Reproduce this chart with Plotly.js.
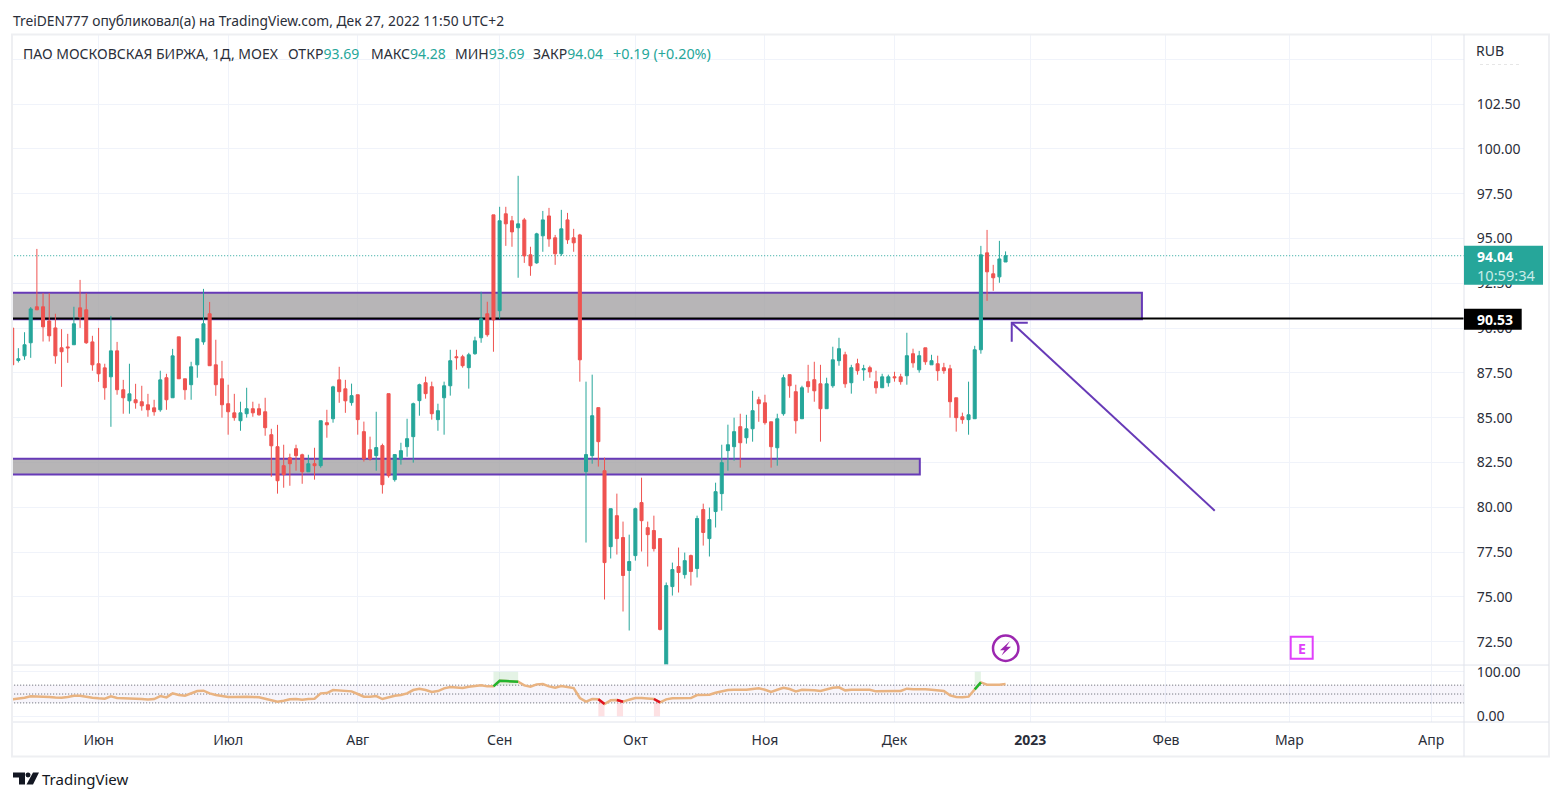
<!DOCTYPE html>
<html><head><meta charset="utf-8">
<script src="https://cdn.plot.ly/plotly-3.0.1.min.js"></script>
<style>html,body{margin:0;padding:0;background:#fff}#c{width:1562px;height:801px}</style>
</head><body><div id="c"></div>
<script>
const opens=[90.00,88.19,88.45,89.18,91.19,91.19,90.40,90.01,88.90,88.95,
89.07,91.13,91.02,89.23,88.01,87.78,87.28,88.73,86.56,85.94,
86.00,85.89,85.72,85.55,85.44,87.23,86.11,89.51,87.17,86.84,
87.95,89.23,90.80,87.95,87.17,85.78,85.27,84.83,85.22,85.50,
85.50,85.33,84.05,83.38,82.32,82.76,83.27,82.93,81.98,82.43,
82.32,84.72,84.94,87.11,86.61,85.84,86.28,84.22,83.21,82.88,
83.44,86.34,81.54,82.71,83.38,83.94,85.95,86.95,86.73,84.89,
86.11,86.78,88.40,88.40,87.79,88.57,89.46,90.80,96.32,90.97,
96.38,95.99,95.60,96.04,94.09,93.64,95.15,96.26,95.04,94.15,
96.04,95.04,95.20,81.99,82.88,85.56,82.04,77.80,79.53,78.31,
76.47,77.30,80.26,78.86,78.70,78.25,70.60,75.57,76.69,76.24,
77.30,76.58,79.87,78.25,79.76,80.76,83.16,83.38,84.50,83.88,
84.38,86.00,85.83,84.77,83.32,85.22,87.40,86.45,84.94,87.01,
87.12,86.89,85.50,86.78,88.18,88.51,86.95,88.01,87.67,87.79,
87.01,86.67,86.95,87.28,87.28,87.34,88.57,87.67,88.90,87.95,
88.01,87.79,87.73,86.11,85.05,84.89,84.94,88.79,94.20,93.03,
92.86,93.69];
const highs=[90.00,88.88,89.77,91.17,94.42,91.95,91.95,90.80,89.94,89.68,
91.19,92.69,91.95,89.57,90.01,88.01,90.68,89.23,87.11,88.01,
86.89,86.78,86.33,86.00,87.62,87.45,88.84,89.51,87.17,88.12,
89.40,92.19,91.46,89.35,88.17,86.84,86.33,85.89,86.67,85.89,
85.78,86.11,84.38,84.60,83.49,82.99,83.49,82.99,82.93,83.32,
84.83,85.44,86.78,87.84,87.11,86.90,86.28,84.78,83.94,85.33,
83.55,86.34,82.94,83.60,84.94,85.84,86.90,87.29,87.01,85.78,
87.01,88.79,88.79,88.51,88.62,89.52,92.03,91.47,96.32,96.77,
96.77,96.26,98.50,96.15,94.54,95.32,96.54,96.71,95.20,96.60,
96.43,95.54,95.26,87.01,87.40,85.56,82.77,79.92,80.76,79.20,
78.47,79.98,81.65,79.20,79.53,78.25,75.80,76.91,77.75,77.47,
77.36,79.53,80.20,79.98,81.37,83.49,84.61,85.00,85.22,85.16,
86.50,86.17,86.28,84.77,85.22,87.40,87.40,86.84,86.78,87.95,
88.12,87.95,87.23,88.96,89.46,88.68,87.95,88.29,87.95,87.90,
87.62,87.45,87.40,87.56,87.45,89.74,88.85,88.73,88.90,88.51,
88.46,88.06,87.95,86.11,85.28,87.01,89.01,94.59,95.48,93.53,
94.87,94.28];
const lows=[87.95,88.08,88.23,88.34,91.02,89.25,89.25,88.01,86.72,88.06,
89.07,90.01,89.12,87.62,87.00,86.00,84.49,86.28,85.22,85.22,
85.50,85.39,85.05,85.11,85.33,85.44,86.11,87.17,86.00,86.00,
87.23,89.07,87.90,86.22,85.00,84.05,84.83,84.27,85.00,85.05,
85.11,83.99,81.70,80.76,81.09,81.20,82.04,81.31,81.98,81.54,
82.21,83.88,84.72,85.83,85.27,85.67,84.05,82.55,82.60,82.04,
80.76,81.65,81.43,82.38,82.82,82.49,85.11,86.06,84.89,84.27,
84.05,86.23,87.68,87.79,86.62,88.51,89.18,89.52,88.68,90.52,
94.59,94.54,92.81,93.64,92.92,93.59,94.26,94.54,93.53,94.03,
94.70,94.26,87.01,78.03,82.43,82.27,74.85,77.14,77.36,74.18,
73.12,77.02,77.53,76.69,77.53,73.12,70.60,75.07,75.24,76.02,
75.63,76.08,77.86,77.25,78.87,79.81,82.04,82.60,82.21,83.55,
83.66,84.77,84.61,82.21,82.32,85.11,86.11,84.11,84.94,86.39,
85.89,83.66,85.50,86.67,87.90,86.67,86.34,87.40,87.06,87.23,
86.34,86.67,86.73,87.01,86.84,86.84,87.79,87.51,87.95,87.95,
87.06,87.45,85.00,84.22,84.66,84.05,84.94,88.57,91.52,92.08,
92.53,93.69];
const closes=[87.95,88.29,89.07,91.07,91.02,90.07,89.57,88.45,88.68,88.90,
90.24,90.63,89.18,87.95,87.45,86.67,88.73,86.56,86.11,86.33,
85.83,85.66,85.44,85.33,87.11,86.00,88.45,87.17,86.56,87.84,
89.40,90.24,87.90,86.84,85.72,85.33,85.00,85.27,85.50,85.27,
85.16,84.44,83.43,81.48,81.82,82.43,82.88,81.98,82.43,82.32,
84.83,84.60,86.72,86.45,85.94,86.23,84.89,82.71,82.71,83.33,
81.26,81.76,82.94,83.16,83.83,85.78,86.84,86.34,85.22,85.39,
86.78,88.18,88.35,87.90,88.51,89.29,90.52,89.63,90.46,95.99,
95.82,95.37,95.82,94.03,93.48,95.26,96.04,94.98,94.15,95.54,
94.93,94.76,88.23,82.94,85.11,83.66,76.91,79.92,78.25,76.19,
76.97,79.92,79.25,78.47,77.69,73.18,75.63,76.52,76.36,77.02,
76.41,79.37,78.59,79.31,80.87,82.49,83.49,84.22,83.60,84.38,
85.39,85.78,84.72,83.38,84.94,87.23,86.78,84.83,86.67,86.73,
86.50,85.50,86.89,88.23,88.85,86.89,87.79,87.62,87.73,87.56,
86.67,87.28,87.28,87.23,87.01,88.46,88.06,88.46,88.12,88.18,
87.62,87.62,85.89,85.00,84.89,85.16,88.79,94.09,93.14,92.81,
93.86,94.04];
const rsi=[38,39.5,41.75,44.75,44.75,44,43.25,42,41.75,43.25,
46.25,46.25,43.25,41.75,40.25,39.5,44.75,41,40.25,40.25,
39.5,38.75,37.6,38.75,45.5,42.5,51.5,47.75,46.25,51.5,
56.75,57.5,51.5,47.75,44.75,43.25,43.25,44,44,43.25,
42.5,39.5,35.75,32.75,35,38,38.75,37.25,38.75,39.5,
51.5,52.25,59,58.25,56.75,56,50,44,44,45.5,
38.75,42.5,46.25,47.75,51.5,59,62,59,54.5,56.75,
62.75,65.75,65,63.5,66.5,68,70,67.25,67.25,80,
79.25,77.75,77.75,69.5,66.5,71.75,72.5,67.25,64.25,68,
65.75,63.5,41,32.75,38.75,38,27.5,35.75,36.5,32.75,
37.25,41,41,40.25,38.75,31.25,38,40.25,41,41,
41,47.75,47.75,48.5,53,56.75,59,59.75,59,59.75,
61.25,62.75,59.75,54.75,59.75,64.25,61.25,56,59.75,59.75,
58.25,56.75,60.5,64.25,65,58.25,59.75,59.75,59.75,59.75,
56,56.75,56.75,56.75,56.75,62,60.5,61.25,60.5,59.75,
58.25,56.75,47,43.25,42.5,44,60.5,76.25,71,70.25,
71,72.5];
const monthTicks=[14,35,56,79,101,122,143,165,187,207,230];
const monthLabels=['Июн','Июл','Авг','Сен','Окт','Ноя','Дек','<b>2023</b>','Фев','Мар','Апр'];
const priceTicks=[72.5,75,77.5,80,82.5,85,87.5,90,92.5,95,97.5,100,102.5,105];
const priceLabels=['72.50','75.00','77.50','80.00','82.50','85.00','87.50','90.00','92.50','95.00','97.50','100.00','102.50',''];
const rsiTicks=[0,100];
const rsiLabels=['0.00','100.00'];
const lastPrice=94.04;
const levelPrice=90.53;
const upperZone={top:91.97,bottom:90.49,end:183.1};
const lowerZone={top:82.71,bottom:81.83,end:147.1};
const rsiHighRuns=[[78,82],[156,157]];
const rsiLowRuns=[[95,96],[98,99],[104,105]];
const arrowBars=[194.9,162,null,162,162,164.6];
const arrowPrices=[79.81,90.30,null,89.24,90.30,90.30];

const UP='#26a69a',DOWN='#ef5350',PUR='#673ab7',GRID='#f0f3fa',SEP='#e0e3eb',TXT='#2a2e39';
const FONT='"Noto Sans", sans-serif';
const L=13,R=1464,T=35,B=722.5;
const xp=x=>(x-L)/(R-L), yp=y=>(B-y)/(B-T);
const idx=opens.map((_,i)=>i);
const XA=-6,XB=240;

const traces=[
 {type:'candlestick',x:idx,open:opens,high:highs,low:lows,close:closes,xaxis:'x',yaxis:'y',hoverinfo:'skip',
  increasing:{line:{color:UP,width:1},fillcolor:UP},decreasing:{line:{color:DOWN,width:1},fillcolor:DOWN},whiskerwidth:0},
 {type:'scatter',mode:'lines',x:arrowBars,y:arrowPrices,xaxis:'x',yaxis:'y',line:{color:PUR,width:2},hoverinfo:'skip',connectgaps:false},
 {type:'scatter',mode:'lines',x:idx,y:rsi,xaxis:'x',yaxis:'y2',line:{color:'#e9b381',width:2.5},hoverinfo:'skip'}
];
rsiHighRuns.forEach(r=>traces.push({type:'scatter',mode:'lines',x:idx.slice(r[0],r[1]+1),y:rsi.slice(r[0],r[1]+1),xaxis:'x',yaxis:'y2',line:{color:'#22b52e',width:2.5},hoverinfo:'skip'}));
rsiLowRuns.forEach(r=>traces.push({type:'scatter',mode:'lines',x:idx.slice(r[0],r[1]+1),y:rsi.slice(r[0],r[1]+1),xaxis:'x',yaxis:'y2',line:{color:'#e0121f',width:2.5},hoverinfo:'skip'}));

function poly(pts){return 'M'+pts.map(p=>xp(p[0])+','+yp(p[1])).join('L')+'Z';}
const zoneShape=z=>({type:'rect',xref:'x',yref:'y',x0:XA,x1:z.end,y0:z.bottom,y1:z.top,fillcolor:'rgba(165,163,165,0.8)',line:{color:PUR,width:2},layer:'between'});
const box=(x0,x1,y0,y1,extra)=>Object.assign({type:'rect',xref:'paper',yref:'paper',x0:xp(x0),x1:xp(x1),y0:yp(y0),y1:yp(y1),line:{width:0}},extra||{});
const shapes=[
 {type:'line',xref:'x',yref:'y',x0:XA,x1:XB,y0:lastPrice,y1:lastPrice,line:{color:UP,width:1,dash:'1px,2px'},layer:'between'},
 zoneShape(upperZone),zoneShape(lowerZone),
 {type:'line',xref:'x',yref:'y',x0:XA,x1:XB,y0:levelPrice,y1:levelPrice,line:{color:'#000',width:2},layer:'between'},
 {type:'rect',xref:'x',yref:'y2',x0:XA,x1:XB,y0:30,y1:70,fillcolor:'rgba(126,87,194,0.06)',line:{width:0},layer:'between'},
 ...[70,50,30].map(v=>({type:'line',xref:'x',yref:'y2',x0:XA,x1:XB,y0:v,y1:v,line:{color:'#5d606b',width:1,dash:'1px,2px'},layer:'between'})),
 ...rsiHighRuns.map(r=>({type:'rect',xref:'x',yref:'y2',x0:r[0],x1:r[1],y0:70,y1:100,fillcolor:'rgba(76,175,80,0.15)',line:{width:0},layer:'between'})),
 ...rsiLowRuns.map(r=>({type:'rect',xref:'x',yref:'y2',x0:r[0],x1:r[1],y0:0,y1:30,fillcolor:'rgba(242,54,69,0.15)',line:{width:0},layer:'between'})),
 // frame and separators
 {type:'rect',xref:'paper',yref:'paper',x0:xp(12),x1:xp(1549),y0:yp(34.5),y1:yp(757),line:{color:'#eeeff2',width:2}},
 {type:'line',xref:'paper',yref:'paper',x0:0,x1:xp(1549),y0:yp(665.5),y1:yp(665.5),line:{color:SEP,width:1}},
 {type:'line',xref:'paper',yref:'paper',x0:0,x1:xp(1549),y0:yp(722.5),y1:yp(722.5),line:{color:SEP,width:1}},
 {type:'line',xref:'paper',yref:'paper',x0:1,x1:1,y0:yp(34.5),y1:yp(757),line:{color:SEP,width:1}},
 // faded label remnant below RUB
 {type:'line',xref:'paper',yref:'paper',x0:xp(1480),x1:xp(1520),y0:yp(64.5),y1:yp(64.5),line:{color:'#e6e6e6',width:1,dash:'dot'}},
 // price badges
 box(1464,1543,246,285,{fillcolor:UP}),
 box(1464,1521.7,309,330,{fillcolor:'#000'}),
 // event icons
 {type:'circle',xref:'paper',yref:'paper',x0:xp(993),x1:xp(1018.4),y0:yp(636),y1:yp(661.4),line:{color:'#9c27b0',width:2.5}},
 {type:'path',xref:'paper',yref:'paper',path:poly([[1010,641.5],[1000,650.8],[1004.5,650.8],[1001.5,656],[1011,647.3],[1006.3,647.3]]),fillcolor:'#9c27b0',line:{width:0}},
 box(1290.7,1312.7,637.3,659.3,{line:{color:'#e040fb',width:2}}),
 // TradingView mark
 {type:'path',xref:'paper',yref:'paper',path:poly([[13,773],[25,773],[25,785],[19,785],[19,778],[13,778]]),fillcolor:'#131722',line:{width:0}},
 {type:'circle',xref:'paper',yref:'paper',x0:xp(25.5),x1:xp(30.5),y0:yp(773),y1:yp(778),fillcolor:'#131722',line:{width:0}},
 {type:'path',xref:'paper',yref:'paper',path:poly([[33,773],[39,773],[33,785],[26.5,785]]),fillcolor:'#131722',line:{width:0}}
];

const val=t=>'<span style="color:#26a69a">'+t+'</span>';
const note=(x,y,text,extra)=>Object.assign({xref:'paper',yref:'paper',x:xp(x-2),y:yp(y),text,showarrow:false,xanchor:'left',yanchor:'middle',align:'left',font:{family:FONT,size:14,color:TXT}},extra||{});
const annotations=[
 note(13,20,'TreiDEN777 опубликовал(а) на TradingView.com, Дек 27, 2022 11:50 UTC+2',{font:{family:FONT,size:13.8,color:TXT}}),
 note(23,54,'ПАО МОСКОВСКАЯ БИРЖА, 1Д, MOEX'),
 note(288,54,'ОТКР'+val('93.69')),
 note(371,54,'МАКС'+val('94.28')),
 note(455,54,'МИН'+val('93.69')),
 note(533,54,'ЗАКР'+val('94.04')),
 note(613,54,val('+0.19 (+0.20%)'),{font:{family:FONT,size:14.4,color:TXT}}),
 note(1476,51,'RUB'),
 note(42,780,'TradingView',{font:{family:FONT,size:15,color:'#131722'}}),
 note(1301.7+2,648.5,'<b>E</b>',{xanchor:'center',font:{family:FONT,size:14,color:'#e040fb'}}),
 note(1477,257,'<b>94.04</b>',{font:{family:FONT,size:14,color:'#fff'}}),
 note(1477,275,'10:59:34',{font:{family:FONT,size:14.6,color:'#c9ece8'}}),
 note(1477,319.5,'<b>90.53</b>',{font:{family:FONT,size:14,color:'#fff'}})
];

const layout={
 width:1562,height:801,paper_bgcolor:'#fff',plot_bgcolor:'#fff',showlegend:false,hovermode:false,
 margin:{l:L,r:1562-R,t:T,b:801-B,pad:0},
 font:{family:FONT,size:14,color:TXT},
 xaxis:{domain:[0,1],anchor:'y2',type:'linear',range:[0.13,235.3],rangeslider:{visible:false},tickmode:'array',tickvals:monthTicks,ticktext:monthLabels,
  showgrid:true,gridcolor:GRID,gridwidth:1,zeroline:false,showline:false,ticks:'outside',ticklen:5,tickcolor:'rgba(0,0,0,0)',tickfont:{size:14,color:TXT}},
 yaxis:{domain:[57.5/687.5,1],anchor:'x',side:'right',type:'linear',range:[71.22,106.36],tickmode:'array',tickvals:priceTicks,ticktext:priceLabels,
  showgrid:true,gridcolor:GRID,gridwidth:1,zeroline:false,showline:false,ticks:'outside',ticklen:9,tickcolor:'rgba(0,0,0,0)',tickfont:{size:14,color:TXT}},
 yaxis2:{domain:[0,56.5/687.5],anchor:'x',side:'right',type:'linear',range:[-13.06,114.2],tickmode:'array',tickvals:rsiTicks,ticktext:rsiLabels,
  showgrid:true,gridcolor:GRID,gridwidth:1,zeroline:false,showline:false,ticks:'outside',ticklen:9,tickcolor:'rgba(0,0,0,0)',tickfont:{size:14,color:TXT}},
 shapes,annotations
};
Plotly.newPlot('c',traces,layout,{displayModeBar:false,staticPlot:true});
</script></body></html>
